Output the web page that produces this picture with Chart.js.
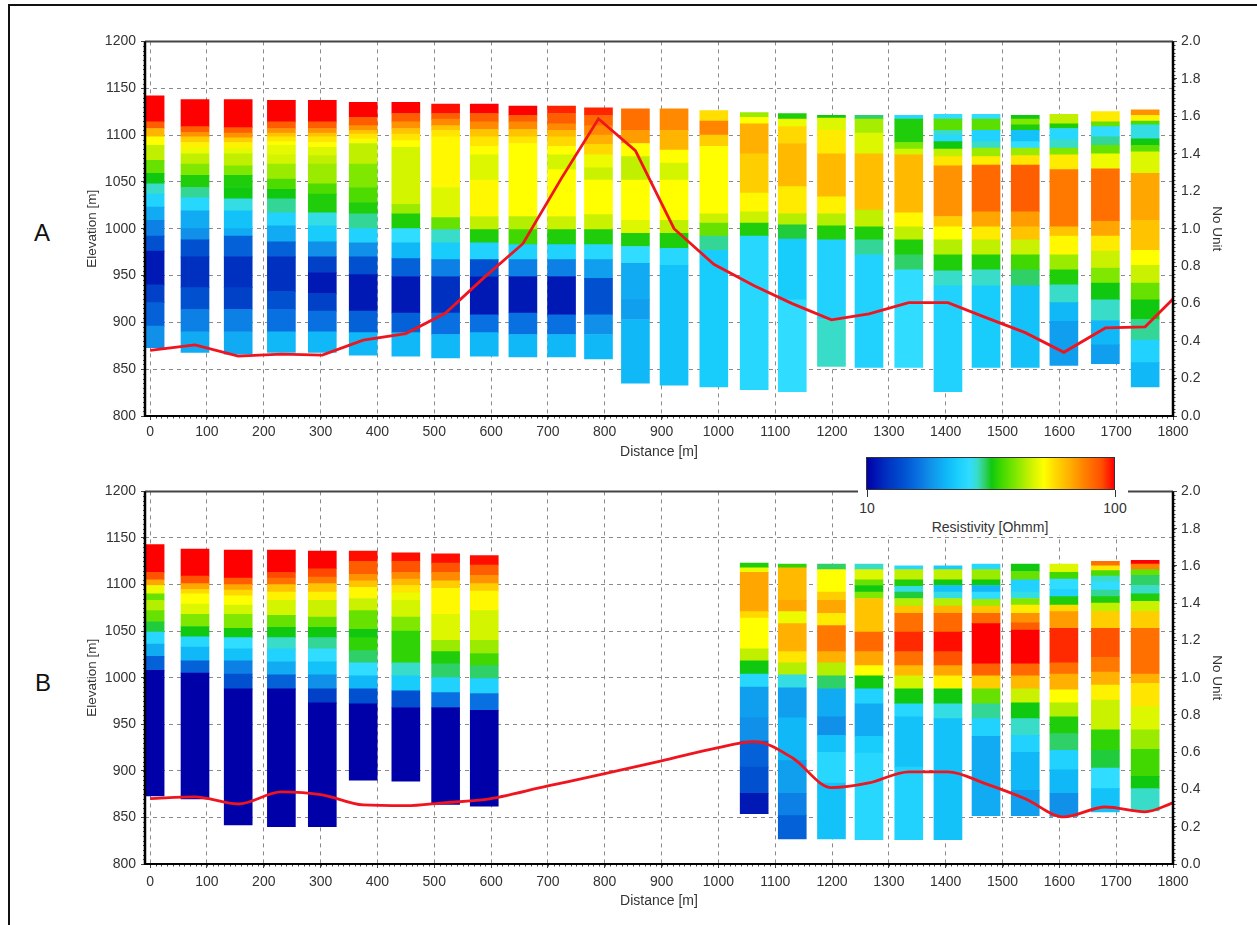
<!DOCTYPE html>
<html>
<head>
<meta charset="utf-8">
<script src="https://cdn.jsdelivr.net/npm/chart.js@4"></script>
<style>
    html, body { margin: 0; padding: 0; background: #fff; width: 1257px; height: 925px; overflow: hidden; }
    body { font-family: "Liberation Sans", Arial, sans-serif; color: #333; }
    canvas { position: absolute; left: 84px; filter: blur(0.4px); }
    #chartA { top: 28px; }
    #chartB { top: 478px; }
    #frame { position: absolute; left: 8px; top: 4px; width: 1260px; height: 940px; border: 2px solid #111; }
    .panel-label { position: absolute; font-size: 24px; color: #111; }
    #legend { position: absolute; left: 858px; top: 454px; width: 270px; height: 81px; background: #fff; }
    #colorbar { position: absolute; left: 8px; top: 3px; width: 247px; height: 31px; border: 1px solid #333; }
    .cb-tick { position: absolute; top: 36px; width: 1px; height: 7px; background: #333; }
    .cb-label { position: absolute; top: 46px; font-size: 14px; transform: translateX(-50%); }
    #cbTitle { position: absolute; top: 65px; left: 132px; font-size: 14px; transform: translateX(-50%); white-space: nowrap; }
</style>
</head>
<body>
<div id="frame"></div>
<canvas id="chartA" width="1141" height="433"></canvas>
<canvas id="chartB" width="1141" height="432"></canvas>
<div class="panel-label" style="left:34px;top:219px">A</div>
<div class="panel-label" style="left:35px;top:669px">B</div>
<div id="legend">
    <div id="colorbar"></div>
    <div class="cb-tick" style="left:9px"></div>
    <div class="cb-tick" style="left:257px"></div>
    <div class="cb-label" style="left:9px">10</div>
    <div class="cb-label" style="left:257px">100</div>
    <div id="cbTitle">Resistivity [Ohmm]</div>
</div>
<script>
const distanceTicks = [0, 100, 200, 300, 400, 500, 600, 700, 800, 900, 1000, 1100, 1200, 1300, 1400, 1500, 1600, 1700, 1800];
const elevationTicks = [800, 850, 900, 950, 1000, 1050, 1100, 1150, 1200];

// Colour scale of the resistivity legend
const rampRho = [10, 12, 14, 16, 18, 21, 23, 26, 28, 30, 32, 35, 40, 45, 52, 58, 66, 76, 89, 100];
const rampColors = ['#0000a8', '#0030c0', '#0050d0', '#0870e0', '#1090e8', '#10b8f8', '#18ccfc', '#30dcff', '#38dcc8', '#30d068',
    '#10c810', '#40d800', '#80e800', '#c0f000', '#ffff00', '#ffd800', '#ffb000', '#ff8000', '#ff5000', '#ff0000'];

// Sounding positions [m]
const distancesA = [0, 79, 155, 231, 303, 375, 450, 520, 588, 656, 724, 789, 854, 922, 992, 1063, 1130, 1199, 1265, 1335, 1404, 1471, 1540, 1608, 1681, 1751];
const distancesB = [0, 79, 155, 231, 303, 375, 450, 520, 588, 1063, 1130, 1199, 1265, 1335, 1404, 1471, 1540, 1608, 1681, 1751];

// Layer boundaries [m elevation], top to bottom, one row per sounding
const edgesA = [
    [1142, 1114, 1107, 1098, 1089, 1073, 1059, 1048, 1037, 1023, 1009, 992, 976, 940, 921, 896, 873],
    [1138, 1109, 1103, 1098, 1092, 1086, 1080, 1069, 1057, 1044, 1033, 1019, 1000, 988, 970, 937, 914, 890, 868],
    [1138, 1108, 1102, 1097, 1092, 1086, 1080, 1067, 1057, 1044, 1032, 1019, 1000, 992, 970, 937, 914, 890, 866],
    [1137, 1114, 1107, 1102, 1098, 1093, 1089, 1079, 1069, 1053, 1042, 1032, 1017, 1003, 986, 970, 933, 914, 890, 868],
    [1137, 1114, 1107, 1102, 1098, 1092, 1087, 1078, 1069, 1048, 1037, 1017, 1003, 986, 970, 953, 931, 912, 890, 868],
    [1135, 1119, 1110, 1105, 1101, 1096, 1091, 1069, 1044, 1028, 1016, 1000, 985, 970, 951, 912, 889, 865],
    [1135, 1123, 1114, 1107, 1101, 1094, 1087, 1026, 1016, 1000, 985, 968, 949, 910, 889, 864],
    [1133, 1123, 1117, 1110, 1105, 1098, 1044, 1012, 999, 985, 967, 949, 910, 887, 862],
    [1133, 1123, 1114, 1106, 1098, 1088, 1079, 1052, 1013, 999, 985, 967, 949, 908, 889, 864],
    [1131, 1121, 1114, 1106, 1098, 1091, 1013, 999, 983, 967, 949, 910, 887, 863],
    [1131, 1123, 1112, 1105, 1098, 1088, 1079, 1063, 1013, 999, 983, 967, 949, 908, 887, 863],
    [1129, 1121, 1110, 1100, 1090, 1079, 1065, 1052, 1015, 999, 983, 967, 947, 908, 887, 861],
    [1128, 1105, 1091, 1077, 1052, 1009, 995, 981, 963, 924, 903, 835],
    [1128, 1105, 1084, 1070, 1052, 1009, 995, 979, 961, 833],
    [1126, 1115, 1100, 1088, 1016, 1006, 992, 977, 831],
    [1124, 1119, 1112, 1080, 1038, 1018, 1006, 992, 828],
    [1123, 1117, 1109, 1091, 1045, 1016, 1004, 989, 924, 826],
    [1121, 1118, 1105, 1080, 1034, 1016, 1003, 988, 903, 853],
    [1121, 1117, 1102, 1080, 1020, 1002, 988, 972, 852],
    [1121, 1117, 1092, 1085, 1079, 1017, 1002, 988, 972, 956, 852],
    [1122, 1117, 1105, 1100, 1093, 1085, 1077, 1067, 1013, 1002, 988, 972, 955, 939, 826],
    [1122, 1117, 1105, 1093, 1086, 1077, 1068, 1018, 1002, 988, 972, 956, 939, 852],
    [1121, 1117, 1111, 1105, 1093, 1086, 1078, 1068, 1018, 1002, 988, 972, 956, 939, 852],
    [1122, 1112, 1107, 1095, 1086, 1079, 1063, 1002, 992, 972, 956, 940, 921, 901, 854],
    [1125, 1114, 1109, 1098, 1089, 1080, 1064, 1008, 992, 976, 958, 942, 924, 902, 876, 856],
    [1127, 1121, 1115, 1111, 1096, 1089, 1082, 1059, 1009, 977, 961, 942, 924, 903, 881, 857, 831]
];

// Resistivity [Ohmm] of each layer
const rhoA = [
    [100, 85, 65, 52, 45, 38, 32, 28, 24, 20, 17, 14, 11, 13, 15, 18],
    [100, 85, 72, 60, 54, 50, 45, 40, 33, 29, 25, 20, 18, 14, 12, 14, 17, 20],
    [100, 85, 72, 60, 54, 49, 45, 40, 33, 32, 27, 22, 20, 15, 12, 13, 17, 20],
    [100, 85, 72, 62, 56, 52, 49, 47, 42, 36, 32, 29, 24, 20, 15, 12, 14, 16, 21],
    [100, 85, 72, 62, 56, 52, 48, 45, 42, 36, 33, 27, 23, 18, 13, 11, 13, 16, 21],
    [100, 85, 72, 62, 56, 51, 45, 40, 36, 33, 29, 24, 18, 14, 11, 15, 21],
    [100, 85, 72, 62, 56, 52, 47, 42, 33, 26, 21, 15, 11, 15, 21],
    [98, 85, 74, 62, 56, 53, 48, 38, 28, 23, 17, 12, 16, 21],
    [100, 85, 74, 62, 56, 52, 48, 53, 45, 33, 24, 14, 11, 16, 21],
    [100, 85, 74, 62, 56, 52, 44, 35, 24, 17, 11, 16, 21],
    [95, 85, 74, 64, 58, 52, 47, 52, 46, 33, 24, 17, 11, 16, 21],
    [95, 82, 74, 66, 58, 50, 46, 52, 46, 33, 25, 19, 14, 18, 21],
    [80, 70, 52, 45, 52, 48, 33, 26, 20, 19, 21],
    [74, 65, 52, 47, 52, 45, 33, 25, 22],
    [57, 75, 60, 52, 46, 38, 29, 23],
    [42, 52, 66, 60, 53, 46, 33, 25],
    [33, 50, 58, 64, 55, 44, 31, 23, 26],
    [32, 48, 55, 64, 54, 44, 33, 24, 28],
    [30, 43, 48, 63, 45, 33, 29, 24],
    [25, 33, 40, 47, 64, 53, 45, 33, 30, 26],
    [26, 37, 28, 25, 32, 45, 56, 72, 60, 52, 44, 33, 28, 24],
    [26, 37, 24, 28, 42, 55, 82, 68, 55, 45, 33, 28, 23],
    [32, 40, 33, 22, 26, 42, 56, 85, 70, 62, 46, 35, 30, 22],
    [45, 33, 25, 28, 40, 55, 78, 62, 53, 42, 33, 28, 21, 19],
    [55, 38, 26, 29, 38, 50, 80, 68, 55, 46, 40, 32, 28, 21, 19],
    [72, 54, 36, 27, 32, 37, 48, 68, 62, 52, 46, 38, 32, 29, 24, 21]
];

const edgesB = [
    [1143, 1113, 1105, 1099, 1090, 1083, 1072, 1060, 1049, 1036, 1023, 1008, 873],
    [1138, 1109, 1101, 1095, 1090, 1079, 1068, 1055, 1044, 1033, 1018, 1005, 870],
    [1137, 1107, 1100, 1094, 1088, 1078, 1068, 1053, 1043, 1031, 1018, 1004, 988, 842],
    [1137, 1113, 1107, 1100, 1092, 1083, 1067, 1054, 1043, 1031, 1017, 1003, 988, 840],
    [1136, 1117, 1108, 1101, 1092, 1083, 1065, 1054, 1043, 1031, 1017, 1003, 988, 973, 840],
    [1136, 1125, 1111, 1104, 1097, 1085, 1072, 1052, 1043, 1029, 1016, 1002, 988, 972, 890],
    [1134, 1125, 1113, 1106, 1099, 1091, 1083, 1065, 1050, 1016, 1002, 986, 968, 889],
    [1133, 1123, 1113, 1104, 1096, 1068, 1040, 1028, 1015, 1000, 984, 968, 864],
    [1131, 1121, 1110, 1101, 1093, 1072, 1040, 1026, 1013, 999, 983, 965, 862],
    [1123, 1118, 1113, 1071, 1064, 1031, 1018, 1004, 990, 957, 932, 904, 876, 854],
    [1122, 1118, 1083, 1071, 1058, 1028, 1016, 1003, 989, 957, 911, 876, 852, 827],
    [1122, 1116, 1092, 1083, 1069, 1056, 1028, 1016, 1002, 988, 958, 938, 920, 887, 827],
    [1122, 1116, 1105, 1099, 1092, 1085, 1049, 1028, 1013, 1002, 988, 972, 937, 919, 826],
    [1120, 1116, 1105, 1098, 1092, 1085, 1077, 1069, 1049, 1028, 1013, 1002, 988, 972, 958, 904, 826],
    [1120, 1116, 1105, 1099, 1092, 1085, 1077, 1069, 1049, 1028, 1013, 1002, 988, 972, 956, 826],
    [1122, 1116, 1105, 1099, 1092, 1084, 1077, 1069, 1058, 1015, 1002, 988, 972, 956, 937, 852],
    [1122, 1114, 1105, 1092, 1085, 1078, 1069, 1059, 1051, 1015, 1002, 988, 973, 956, 938, 920, 879, 852],
    [1122, 1113, 1106, 1095, 1087, 1078, 1071, 1053, 1016, 1004, 987, 973, 958, 940, 922, 901, 876, 851],
    [1125, 1120, 1115, 1109, 1103, 1094, 1087, 1080, 1071, 1053, 1022, 1006, 992, 976, 944, 922, 903, 881, 856],
    [1126, 1122, 1116, 1110, 1099, 1090, 1082, 1071, 1053, 1004, 994, 969, 944, 923, 894, 881, 857]
];

const rhoB = [
    [100, 88, 68, 50, 38, 44, 38, 31, 25, 20, 15, 10],
    [100, 88, 68, 58, 52, 48, 40, 32, 25, 21, 15, 10],
    [100, 85, 68, 58, 52, 47, 40, 32, 26, 22, 17, 14, 10],
    [100, 90, 80, 62, 54, 47, 38, 32, 28, 24, 20, 15, 10],
    [100, 90, 78, 62, 54, 46, 38, 32, 29, 26, 22, 18, 13, 10],
    [98, 85, 72, 62, 53, 46, 38, 32, 34, 30, 26, 21, 14, 10],
    [98, 88, 74, 64, 56, 50, 47, 40, 34, 28, 23, 14, 10],
    [98, 88, 74, 60, 53, 48, 42, 33, 30, 24, 16, 10],
    [98, 85, 72, 60, 53, 47, 42, 35, 30, 24, 16, 10],
    [33, 50, 68, 58, 52, 45, 32, 25, 19, 18, 15, 14, 11],
    [34, 64, 68, 50, 66, 56, 44, 27, 19, 21, 19, 17, 15],
    [30, 52, 60, 68, 55, 78, 66, 44, 30, 20, 18, 22, 25, 22],
    [28, 48, 38, 32, 40, 62, 82, 68, 52, 32, 24, 20, 23, 25],
    [25, 45, 33, 27, 31, 44, 62, 80, 94, 80, 64, 47, 32, 25, 22, 24],
    [23, 45, 32, 22, 27, 44, 65, 82, 98, 88, 68, 54, 32, 27, 22],
    [25, 42, 32, 21, 26, 42, 62, 82, 100, 84, 60, 38, 29, 24, 20],
    [32, 38, 24, 27, 40, 55, 72, 85, 100, 82, 64, 46, 32, 28, 24, 21, 19],
    [48, 35, 26, 24, 33, 58, 70, 94, 80, 66, 52, 44, 33, 30, 24, 21, 18],
    [80, 56, 36, 28, 26, 29, 33, 45, 60, 88, 78, 66, 54, 46, 34, 31, 26, 22],
    [100, 76, 38, 30, 28, 33, 46, 60, 80, 66, 56, 48, 42, 35, 32, 28]
];

// Red curve on the right-hand axis
const curveDistancesA = [0, 79, 155, 231, 303, 375, 450, 520, 588, 656, 724, 789, 854, 922, 992, 1063, 1130, 1199, 1265, 1335, 1404, 1471, 1540, 1608, 1681, 1751, 1800];
const noUnitA = [0.35, 0.38, 0.32, 0.33, 0.325, 0.405, 0.44, 0.55, 0.74, 0.92, 1.27, 1.587, 1.417, 1.0, 0.81, 0.695, 0.6, 0.513, 0.545, 0.605, 0.605, 0.525, 0.445, 0.34, 0.47, 0.476, 0.625];
const curveDistancesB = [0, 79, 155, 231, 303, 375, 450, 520, 588, 700, 800, 900, 1000, 1063, 1130, 1199, 1265, 1335, 1404, 1471, 1540, 1608, 1681, 1751, 1800];
const noUnitB = [0.351, 0.36, 0.322, 0.387, 0.371, 0.317, 0.313, 0.33, 0.345, 0.419, 0.485, 0.554, 0.625, 0.657, 0.57, 0.41, 0.435, 0.495, 0.495, 0.43, 0.35, 0.253, 0.306, 0.28, 0.328];

function hexToRgb(hex) {
    return [1, 3, 5].map(i => parseInt(hex.substr(i, 2), 16));
}

function rhoColor(rho) {
    let i = 0;
    while (i < rampRho.length - 2 && rho > rampRho[i + 1]) i++;
    const t = (Math.log10(rho) - Math.log10(rampRho[i])) / (Math.log10(rampRho[i + 1]) - Math.log10(rampRho[i]));
    const a = hexToRgb(rampColors[i]);
    const b = hexToRgb(rampColors[i + 1]);
    const c = a.map((v, k) => Math.round(v + (b[k] - v) * t));
    return `rgb(${c[0]},${c[1]},${c[2]})`;
}

// Thick plot outline and the small minor ticks, on top of bars and line
const plotFrame = {
    id: 'plotFrame',
    afterDraw(chart) {
        const { ctx, chartArea: a, scales } = chart;
        ctx.save();
        ctx.strokeStyle = '#444';
        ctx.lineWidth = 1;
        ctx.beginPath();
        for (let v = 0; v <= 1800; v += 10) {
            const px = Math.round(scales.x.getPixelForValue(v)) + 0.5;
            ctx.moveTo(px, a.bottom);
            ctx.lineTo(px, a.bottom + 2.5);
        }
        for (let v = 800; v <= 1200; v += 5) {
            const py = Math.round(scales.y.getPixelForValue(v)) + 0.5;
            ctx.moveTo(a.left - 2, py);
            ctx.lineTo(a.left, py);
        }
        for (let v = 0; v <= 2.001; v += 0.02) {
            const py = Math.round(scales.y1.getPixelForValue(v)) + 0.5;
            ctx.moveTo(a.right, py);
            ctx.lineTo(a.right + 2.5, py);
        }
        ctx.stroke();
        ctx.strokeStyle = '#444';
        ctx.lineWidth = 2;
        ctx.beginPath();
        ctx.moveTo(a.left, a.top);
        ctx.lineTo(a.right, a.top);
        ctx.stroke();
        ctx.strokeStyle = '#000';
        ctx.beginPath();
        ctx.moveTo(a.left, a.bottom);
        ctx.lineTo(a.right, a.bottom);
        ctx.stroke();
        ctx.lineWidth = 2.5;
        ctx.beginPath();
        ctx.moveTo(a.left, a.top);
        ctx.lineTo(a.left, a.bottom + 1);
        ctx.moveTo(a.right, a.top);
        ctx.lineTo(a.right, a.bottom + 1);
        ctx.stroke();
        ctx.restore();
    }
};

function buildChart(canvasId, distances, edges, rho, curveDistances, noUnit, lineOptions, xHeight, xTickPadding) {
    const tickFont = { family: 'Liberation Sans', size: 14 };
    const sideTitleFont = { family: 'Liberation Sans', size: 13.5 };
    const bottomTitleFont = { family: 'Liberation Sans', size: 14 };
    const gridStyle = { color: '#8a8a8a', lineWidth: 1, tickLength: 4, tickColor: '#444' };

    const datasets = distances.map((x, i) => ({
        type: 'bar',
        data: rho[i].map((r, j) => ({ x: x, y: [edges[i][j + 1], edges[i][j]] })),
        backgroundColor: rho[i].map(rhoColor),
        barThickness: 28,
        grouped: false,
        borderWidth: 0,
        order: 1
    }));

    datasets.push({
        type: 'line',
        data: curveDistances.map((x, i) => ({ x: x, y: noUnit[i] })),
        yAxisID: 'y1',
        borderColor: '#f0141e',
        borderWidth: 2.8,
        pointRadius: 0,
        clip: false,
        order: 0,
        ...lineOptions
    });

    return new Chart(document.getElementById(canvasId), {
        type: 'bar',
        data: { datasets: datasets },
        plugins: [plotFrame],
        options: {
            responsive: false,
            animation: false,
            layout: { padding: { top: 9 } },
            plugins: { legend: { display: false }, tooltip: { enabled: false } },
            scales: {
                x: {
                    type: 'linear',
                    min: -9,
                    max: 1800,
                    offset: false,
                    afterBuildTicks: scale => { scale.ticks = distanceTicks.map(v => ({ value: v })); },
                    afterFit: scale => { scale.height = xHeight; },
                    grid: { ...gridStyle, offset: false },
                    border: { display: false, dash: [4, 4] },
                    ticks: { font: tickFont, color: '#333', maxRotation: 0, autoSkip: false, padding: xTickPadding, callback: v => String(v) },
                    title: { display: true, text: 'Distance [m]', font: bottomTitleFont, color: '#333', padding: { top: 3, bottom: 0 } }
                },
                y: {
                    min: 800,
                    max: 1200,
                    afterBuildTicks: scale => { scale.ticks = elevationTicks.map(v => ({ value: v })); },
                    afterFit: scale => { scale.width = 61; },
                    grid: gridStyle,
                    border: { display: false, dash: [4, 4] },
                    ticks: { font: tickFont, color: '#333', padding: 5, callback: v => String(v) },
                    title: { display: true, text: 'Elevation [m]', font: sideTitleFont, color: '#333', padding: { top: 0, bottom: 0 } }
                },
                y1: {
                    position: 'right',
                    min: 0,
                    max: 2,
                    afterFit: scale => { scale.width = 52; },
                    grid: { ...gridStyle, drawOnChartArea: false },
                    border: { display: false },
                    ticks: { font: tickFont, color: '#333', stepSize: 0.2, padding: 4, callback: v => v.toFixed(1) },
                    title: { display: true, text: 'No Unit', font: sideTitleFont, color: '#333', padding: { top: 0, bottom: 2 } }
                }
            }
        }
    });
}

buildChart('chartA', distancesA, edgesA, rhoA, curveDistancesA, noUnitA, { tension: 0 }, 45, 4);
buildChart('chartB', distancesB, edgesB, rhoB, curveDistancesB, noUnitB, { cubicInterpolationMode: 'monotone' }, 46, 6);

// Legend bar takes its stops from the same ramp
const span = Math.log10(rampRho[rampRho.length - 1]) - Math.log10(rampRho[0]);
const stops = rampRho.map((r, i) => `${rampColors[i]} ${((Math.log10(r) - Math.log10(rampRho[0])) / span * 100).toFixed(1)}%`);
document.getElementById('colorbar').style.background = `linear-gradient(to right, ${stops.join(', ')})`;
</script>
</body>
</html>
